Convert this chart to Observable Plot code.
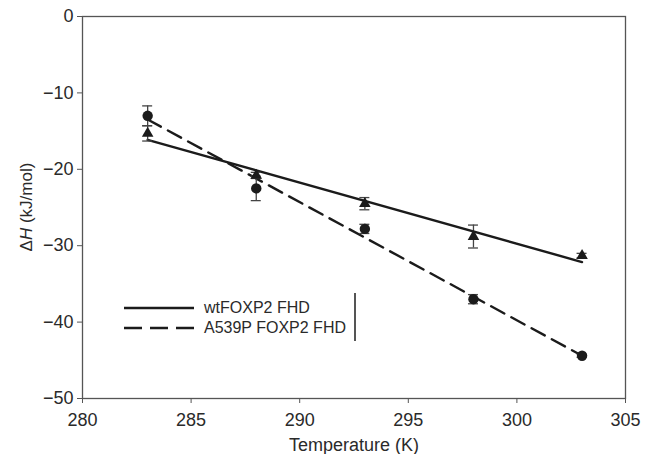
<!DOCTYPE html>
<html>
<head>
<meta charset="utf-8">
<script src="https://cdn.jsdelivr.net/npm/d3@7"></script>
<script src="https://cdn.jsdelivr.net/npm/@observablehq/plot@0.6"></script>
<style>
  html, body { margin: 0; padding: 0; background: #fff; }
  #wrap { position: relative; width: 651px; height: 454px; font-family: "Liberation Sans", Arial, sans-serif; }
  #ylab { position: absolute; left: 27px; top: 207px; transform: translate(-50%, -50%) rotate(-90deg); font-size: 17px; color: #2a2a2a; white-space: nowrap; }
  #legend { position: absolute; left: 122px; top: 298px; font-size: 16px; color: #2a2a2a; }
  #legend .row { display: flex; align-items: center; height: 20px; }
  #legend svg { margin-right: 6px; }
  #vbar { position: absolute; left: 354px; top: 293px; width: 1.5px; height: 48px; background: #555; }
</style>
</head>
<body>
<div id="wrap"></div>
<script>
const temps = [283, 288, 293, 298, 303];
const wtDH = [-15.3, -20.8, -24.5, -28.8, -31.3];
const wtErr = [1.0, 0.4, 0.8, 1.5, 0.3];
const mutDH = [-13.0, -22.5, -27.8, -37.0, -44.4];
const mutErr = [1.3, 1.6, 0.6, 0.6, 0.2];
const seriesNames = ["wtFOXP2 FHD", "A539P FOXP2 FHD"];
const xTicks = [280, 285, 290, 295, 300, 305];
const yTicks = [0, -10, -20, -30, -40, -50];

const wt = temps.map((T, i) => ({T, dh: wtDH[i], err: wtErr[i]}));
const mut = temps.map((T, i) => ({T, dh: mutDH[i], err: mutErr[i]}));
const ink = "#1b1b1b";
const axisGray = "#555";
const fmt = d => d < 0 ? "\u2212" + Math.abs(d) : String(d);

function errMarks(data) {
  return [
    Plot.ruleX(data, {x: "T", y1: d => d.dh - d.err, y2: d => d.dh + d.err, stroke: "#444", strokeWidth: 1.3}),
    Plot.ruleY(data, {x1: "T", x2: "T", y: d => d.dh + d.err, insetLeft: -5, insetRight: -5, stroke: "#444", strokeWidth: 1.3}),
    Plot.ruleY(data, {x1: "T", x2: "T", y: d => d.dh - d.err, insetLeft: -5, insetRight: -5, stroke: "#444", strokeWidth: 1.3})
  ];
}

const chart = Plot.plot({
  width: 651,
  height: 454,
  marginLeft: 82,
  marginRight: 26,
  marginTop: 16,
  marginBottom: 56,
  style: {fontFamily: "'Liberation Sans', Arial, sans-serif", fontSize: "18px", color: "#2a2a2a", background: "#fff"},
  x: {domain: [280, 305]},
  y: {domain: [-50, 0]},
  marks: [
    Plot.frame({stroke: axisGray, strokeWidth: 1.3}),
    Plot.axisX({ticks: xTicks, tickSize: 5, stroke: axisGray, label: "Temperature (K)", labelAnchor: "center", labelArrow: "none", labelOffset: 52, tickPadding: 10, fontSize: 18}),
    Plot.axisY({ticks: yTicks, tickSize: 5, stroke: axisGray, label: null, tickPadding: 4, tickFormat: fmt, fontSize: 18}),
    Plot.linearRegressionY(wt, {x: "T", y: "dh", ci: 0, stroke: ink, strokeWidth: 2.4}),
    Plot.linearRegressionY(mut, {x: "T", y: "dh", ci: 0, stroke: ink, strokeWidth: 2.4, strokeDasharray: "15,8"}),
    ...errMarks(wt),
    ...errMarks(mut),
    Plot.dot(wt, {x: "T", y: "dh", symbol: "triangle", r: 4.3, fill: ink, stroke: "none"}),
    Plot.dot(mut, {x: "T", y: "dh", symbol: "circle", r: 5.2, fill: ink, stroke: "none"})
  ]
});

const wrap = document.getElementById("wrap");
wrap.appendChild(chart);

const ylab = document.createElement("div");
ylab.id = "ylab";
ylab.innerHTML = "\u0394<i>H</i> (kJ/mol)";
wrap.appendChild(ylab);

const legend = document.createElement("div");
legend.id = "legend";
legend.innerHTML = seriesNames.map((name, i) =>
  `<div class="row"><svg width="76" height="6"><line x1="2" y1="3" x2="72" y2="3" stroke="${ink}" stroke-width="2.6" ${i === 1 ? 'stroke-dasharray="18,8"' : ''}/></svg><span>${name}</span></div>`
).join("");
wrap.appendChild(legend);

const vbar = document.createElement("div");
vbar.id = "vbar";
wrap.appendChild(vbar);
</script>
</body>
</html>
